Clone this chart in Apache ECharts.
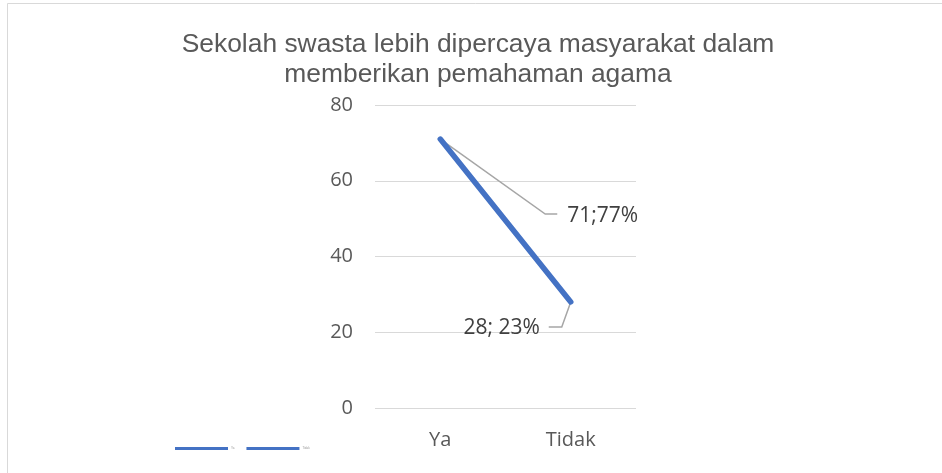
<!DOCTYPE html>
<html>
<head>
<meta charset="utf-8">
<script src="https://cdn.jsdelivr.net/npm/echarts@6/dist/echarts.min.js"></script>
<style>
html,body{margin:0;padding:0;background:#fff;}
#main{width:942px;height:473px;}
</style>
</head>
<body>
<div id="main"></div>
<script>
const titleLines = ['Sekolah swasta lebih dipercaya masyarakat dalam', 'memberikan pemahaman agama'];
const categories = ['Ya', 'Tidak'];
const values = [71, 28];
const dataLabels = ['71;77%', '28; 23%'];
const yMin = 0, yMax = 80, yStep = 20;

const chart = echarts.init(document.getElementById('main'));
const option = {
  animation: false,
  backgroundColor: '#ffffff',
  title: {
    text: titleLines.join('\n'),
    left: 473,
    textAlign: 'center',
    top: 25,
    textStyle: {
      fontFamily: 'Liberation Sans',
      fontSize: 26.4,
      fontWeight: 'normal',
      color: '#595959',
      lineHeight: 30
    }
  },
  legend: {
    left: 170,
    top: 442,
    icon: 'rect',
    itemWidth: 53,
    itemHeight: 3,
    itemGap: 12,
    textStyle: { fontSize: 3, color: '#999999', padding: [0, 0, 0, -2] },
    data: categories
  },
  grid: { left: 375, right: 306, top: 105, bottom: 65 },
  xAxis: {
    type: 'category',
    data: categories,
    boundaryGap: true,
    axisLine: { show: false },
    axisTick: { show: false },
    axisLabel: { color: '#595959', fontSize: 20, fontFamily: 'Open Sans', margin: 22 }
  },
  yAxis: {
    type: 'value',
    min: yMin,
    max: yMax,
    interval: yStep,
    axisLine: { show: false },
    axisTick: { show: false },
    splitLine: { lineStyle: { color: '#d9d9d9', width: 1 } },
    axisLabel: { color: '#595959', fontSize: 20, fontFamily: 'Open Sans', margin: 22 }
  },
  series: [
    {
      name: categories[0],
      type: 'line',
      data: values,
      showSymbol: false,
      symbol: 'none',
      color: '#4472C4',
      lineStyle: { color: '#4472C4', width: 5.5, cap: 'round' }
    },
    {
      name: categories[1],
      type: 'line',
      data: [],
      symbol: 'none',
      color: '#4472C4',
      lineStyle: { color: '#4472C4', width: 5.5 }
    }
  ]
};
chart.setOption(option);

const p0 = chart.convertToPixel({ seriesIndex: 0 }, [0, values[0]]);
const p1 = chart.convertToPixel({ seriesIndex: 0 }, [1, values[1]]);
const leaderStyle = { stroke: '#a6a6a6', lineWidth: 1.5, fill: null };
const labelFont = { fontFamily: 'Open Sans', fontSize: 21, fill: '#404040' };

chart.setOption({
  graphic: [
    {
      type: 'rect', silent: true, z: -1,
      shape: { x: 7.5, y: 3.5, width: 1200, height: 1200 },
      style: { stroke: '#d9d9d9', lineWidth: 1, fill: null }
    },
    {
      type: 'polyline', silent: true,
      shape: { points: [p0, [p0[0] + 105, p0[1] + 75], [p0[0] + 117, p0[1] + 75]] },
      style: leaderStyle
    },
    {
      type: 'text', silent: true,
      x: p0[0] + 127, y: p0[1] + 77,
      style: Object.assign({ text: dataLabels[0], textAlign: 'left', textVerticalAlign: 'middle' }, labelFont)
    },
    {
      type: 'polyline', silent: true,
      shape: { points: [p1, [p1[0] - 9, p1[1] + 25], [p1[0] - 22, p1[1] + 25]] },
      style: leaderStyle
    },
    {
      type: 'text', silent: true,
      x: p1[0] - 31, y: p1[1] + 26,
      style: Object.assign({ text: dataLabels[1], textAlign: 'right', textVerticalAlign: 'middle' }, labelFont)
    }
  ]
});
</script>
</body>
</html>
